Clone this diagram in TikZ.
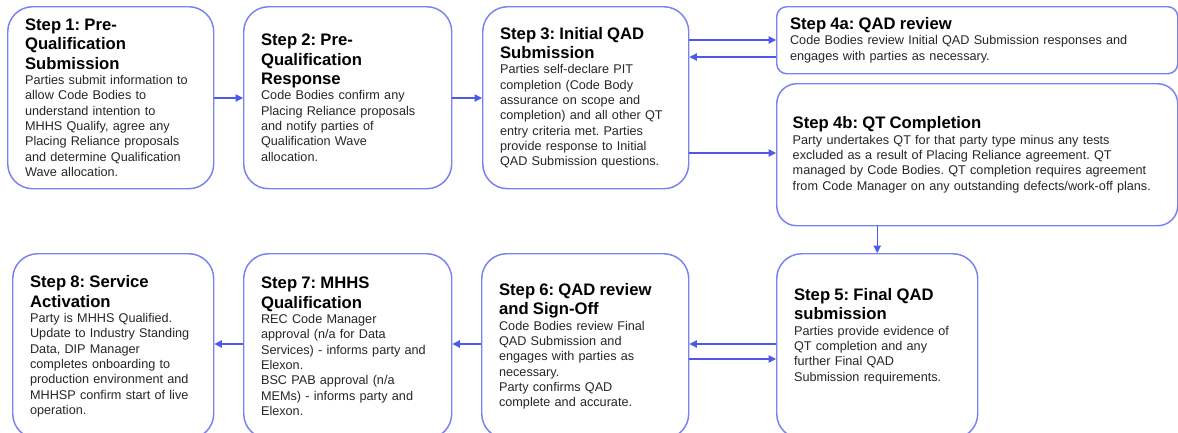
\documentclass[tikz,border=0pt]{standalone}
\usepackage{fontspec}
\setmainfont{Liberation Sans}
\usetikzlibrary{arrows.meta}
\frenchspacing
\definecolor{boxblue}{RGB}{120,130,240}
\definecolor{linkblue}{RGB}{75,90,235}
\definecolor{bodygrey}{RGB}{38,38,38}
\newcommand{\stepfont}{\fontsize{9.5pt}{11.5pt}\selectfont}
\newcommand{\sttl}[1]{{\fontsize{12.5pt}{14.6pt}\selectfont\bfseries\color{black}#1\par}}

\begin{document}
\begin{tikzpicture}[x=0.75pt,y=0.75pt,yscale=-1,xscale=1,
  stepbox/.style={draw=boxblue, line width=1.1pt, rounded corners=18.75pt, anchor=north west, inner xsep=13pt, inner ysep=0pt, align=left, font=\stepfont, text=bodygrey},
  link/.style={draw=linkblue, line width=0.8pt, -{Triangle[length=5.5pt,width=5.5pt]}}]
\useasboundingbox (0,0) rectangle (1178,432);

% Top row
\node[stepbox, minimum width=154.5pt, text width=128.5pt, minimum height=136.5pt] (s1) at (7,6) {\sttl{Step 1: Pre-\\Qualification\\Submission}Parties submit information to\\allow Code Bodies to\\understand intention to\\MHHS Qualify, agree any\\Placing Reliance proposals\\and determine Qualification\\Wave allocation.};
\node[stepbox, minimum width=156pt, text width=130pt, minimum height=136.5pt] (s2) at (243,6) {\sttl{Step 2: Pre-\\Qualification\\Response}Code Bodies confirm any\\Placing Reliance proposals\\and notify parties of\\Qualification Wave\\allocation.};
\node[stepbox, minimum width=154.5pt, text width=128.5pt, minimum height=136.5pt] (s3) at (482,6) {\sttl{Step 3: Initial QAD\\Submission}Parties self-declare PIT\\completion (Code Body\\assurance on scope and\\completion) and all other QT\\entry criteria met. Parties\\provide response to Initial\\QAD Submission questions.};
\node[stepbox, rounded corners=7.5pt, inner xsep=10pt, minimum width=300.75pt, text width=280.75pt, minimum height=50.25pt] (s4a) at (776,6) {\sttl{Step 4a: QAD review}Code Bodies review Initial QAD Submission responses and\\engages with parties as necessary.};
\node[stepbox, rounded corners=15pt, inner xsep=12pt, minimum width=300.75pt, text width=276.75pt, minimum height=106.5pt] (s4b) at (776,83) {\sttl{Step 4b: QT Completion}Party undertakes QT for that party type minus any tests\\excluded as a result of Placing Reliance agreement. QT\\managed by Code Bodies. QT completion requires agreement\\from Code Manager on any outstanding defects/work-off plans.};

% Bottom row
\node[stepbox, minimum width=150.75pt, text width=124.75pt, minimum height=138.75pt] (s5) at (776,253) {\sttl{Step 5: Final QAD\\submission}Parties provide evidence of\\QT completion and any\\further Final QAD\\Submission requirements.\par\vspace{6pt}\mbox{}};
\node[stepbox, minimum width=155.25pt, text width=129.25pt, minimum height=138.75pt] (s6) at (481,253) {\sttl{Step 6: QAD review\\and Sign-Off}Code Bodies review Final\\QAD Submission and\\engages with parties as\\necessary.\\Party confirms QAD\\complete and accurate.};
\node[stepbox, minimum width=156pt, text width=130pt, minimum height=138.75pt] (s7) at (243,253) {\sttl{Step 7: MHHS\\Qualification}REC Code Manager\\approval (n/a for Data\\Services) - informs party and\\Elexon.\\BSC PAB approval (n/a\\MEMs) - informs party and\\Elexon.};
\node[stepbox, minimum width=150.75pt, text width=124.75pt, minimum height=138.75pt] (s8) at (12,253) {\sttl{Step 8: Service\\Activation}Party is MHHS Qualified.\\Update to Industry Standing\\Data, DIP Manager\\completes onboarding to\\production environment and\\MHHSP confirm start of live\\operation.};

%Straight Lines
\draw[link] (s1.east |- 0,98) -- (s2.west |- 0,98);
\draw[link] (s2.east |- 0,98) -- (s3.west |- 0,98);
\draw[link] (s3.east |- 0,40) -- (s4a.west |- 0,40);
\draw[link] (s4a.west |- 0,57) -- (s3.east |- 0,57);
\draw[link] (s3.east |- 0,153) -- (s4b.west |- 0,153);
\draw[link] (s5.north |- s4b.south) -- (s5.north);
\draw[link] (s5.west |- 0,344) -- (s6.east |- 0,344);
\draw[link] (s6.east |- 0,359) -- (s5.west |- 0,359);
\draw[link] (s6.west |- 0,344) -- (s7.east |- 0,344);
\draw[link] (s7.west |- 0,344) -- (s8.east |- 0,344);

\end{tikzpicture}
\end{document}
